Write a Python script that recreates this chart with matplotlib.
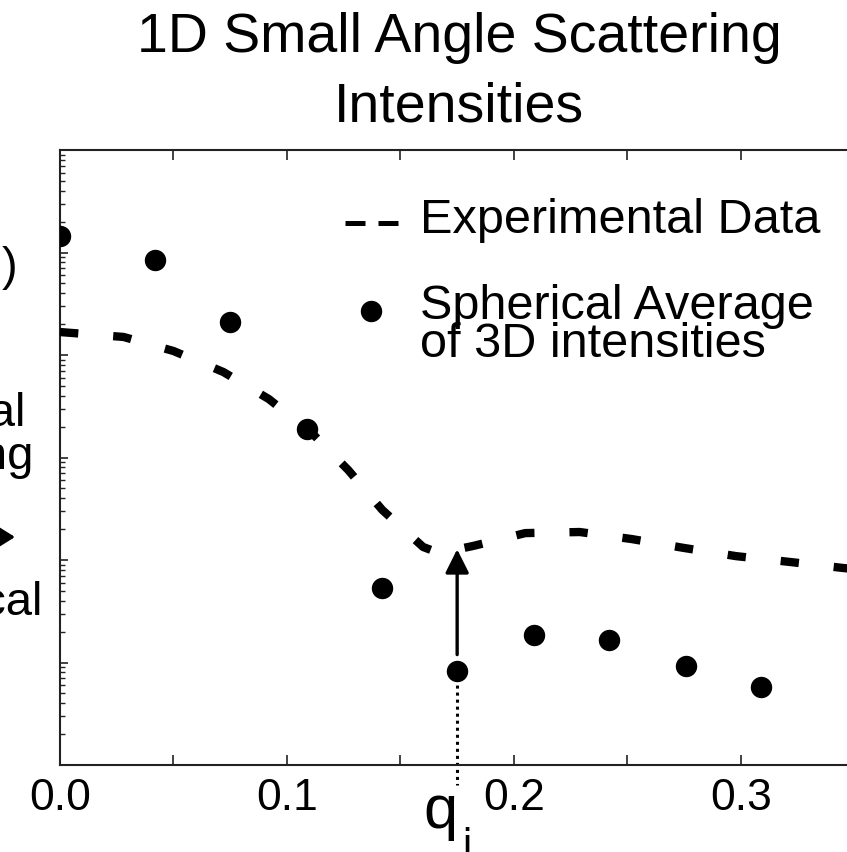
import numpy as np
import matplotlib
matplotlib.use("Agg")
import matplotlib.pyplot as plt
from matplotlib.lines import Line2D
from matplotlib.patches import FancyArrowPatch
from matplotlib.legend_handler import HandlerLine2D
from matplotlib import transforms
from matplotlib.ticker import MultipleLocator, LogLocator, NullFormatter

plt.rcParams['font.family'] = ['Liberation Sans', 'DejaVu Sans']

# ---------------- data ----------------
exp_q = [0.0, 0.028, 0.050, 0.072, 0.092, 0.111, 0.127, 0.142, 0.160, 0.167,
         0.182, 0.205, 0.229, 0.252, 0.275, 0.298, 0.322, 0.345, 0.36]
exp_I = [1675, 1500, 1094, 682, 372, 173, 75.5, 30.8, 13.4, 11.7,
         13.7, 18.3, 18.75, 16.0, 13.1, 10.9, 9.55, 8.36, 7.76]

sph_q = [0.0, 0.042, 0.075, 0.109, 0.142, 0.175, 0.209, 0.242, 0.276, 0.309]
sph_I = [14490, 8453, 2099, 189.7, 5.33, 0.826, 1.854, 1.660, 0.925, 0.577]

qi_index = 5

title = "1D Small Angle Scattering\nIntensities"
legend_labels = ["Experimental Data", "Spherical Average\nof 3D intensities"]
x_ticks = [0.0, 0.1, 0.2, 0.3]
x_ticklabels = ["0.0", "0.1", "0.2", "0.3"]
side_texts = ["I(q)", "Experimental", "Scattering", "Numerical"]

# ---------------- figure ----------------
W, H = 847, 852
fig = plt.figure(figsize=(W / 100, H / 100), dpi=100)
fig.patch.set_facecolor('white')


def P(x, y):
    """pixel (from top-left) -> figure fraction"""
    return x / W, 1 - y / H


class ShiftedHandler(HandlerLine2D):
    def __init__(self, dy=0.0, **kw):
        super().__init__(**kw)
        self.dy = dy

    def create_artists(self, legend, orig_handle, xdescent, ydescent,
                       width, height, fontsize, trans):
        arts = super().create_artists(legend, orig_handle, xdescent, ydescent,
                                      width, height, fontsize, trans)
        for a in arts:
            y = np.asarray(a.get_ydata(), dtype=float)
            a.set_ydata(y + self.dy)
        return arts


ax = fig.add_axes([60 / W, 87 / H, 817 / W, 615 / H])
ax.set_yscale('log')
ax.set_xlim(0, 0.36)
ax.set_ylim(1e-1, 1e5)

ax.plot(exp_q, exp_I, color='black', lw=6, dashes=(2.2, 4.2),
        dash_capstyle='butt', zorder=3)
ax.plot(sph_q, sph_I, linestyle='none', marker='o', ms=14.4,
        color='black', zorder=4)

# arrow from q_i point up to experimental curve
qi = sph_q[qi_index]
exp_at_qi = 10 ** np.interp(qi, exp_q, np.log10(exp_I))
start = sph_I[qi_index] * 10 ** 0.16
ax.annotate("", xy=(qi, exp_at_qi), xytext=(qi, start),
            arrowprops=dict(arrowstyle='-|>,head_length=0.72,head_width=0.36',
                            mutation_scale=20, lw=2.4, color='black',
                            shrinkA=0, shrinkB=0), zorder=5)

# dotted drop line from q_i point below the axis
blend = transforms.blended_transform_factory(ax.transData, ax.transAxes)
ylo, yhi = ax.get_ylim()
frac = (np.log10(sph_I[qi_index]) - np.log10(ylo)) / (np.log10(yhi) - np.log10(ylo))
ax.plot([qi, qi], [frac, -0.033], transform=blend, color='black', lw=2.2,
        dashes=(1.0, 1.3), clip_on=False, zorder=2)

# ticks
ax.set_xticks(x_ticks)
ax.set_xticklabels(x_ticklabels)
ax.xaxis.set_minor_locator(MultipleLocator(0.05))
ax.yaxis.set_major_locator(LogLocator(base=10, numticks=20))
ax.yaxis.set_minor_locator(LogLocator(base=10, subs=np.arange(2, 10), numticks=50))
ax.yaxis.set_major_formatter(NullFormatter())
ax.yaxis.set_minor_formatter(NullFormatter())
ax.tick_params(axis='both', which='both', direction='in', top=True, right=True,
               color='#222222')
ax.tick_params(axis='x', which='major', length=7, width=1.2, labelsize=32, pad=9)
ax.tick_params(axis='x', which='minor', length=7, width=1.2)
ax.tick_params(axis='y', which='major', length=6, width=1.2)
ax.tick_params(axis='y', which='minor', length=3.5, width=1.0)
for s in ax.spines.values():
    s.set_linewidth(1.5)
    s.set_color('#222222')

# legend
h1 = Line2D([], [], color='black', lw=3.6, dashes=(4, 2.6), dash_capstyle='butt')
h2 = Line2D([], [], linestyle='none', marker='o', ms=14.4, color='black')
leg = ax.legend([h1, h2], legend_labels, loc='upper left',
                bbox_to_anchor=P(345, 198), bbox_transform=fig.transFigure,
                frameon=False, fontsize=35, handlelength=1.09,
                handletextpad=0.45, labelspacing=0.85, borderpad=0,
                borderaxespad=0,
                handler_map={h1: ShiftedHandler(dy=-5.0),
                             h2: ShiftedHandler(dy=10.8)})
for t in leg.get_texts():
    t.set_linespacing(0.78)

# title
fig.text(*P(459, 122), title, ha='center', va='baseline', fontsize=40,
         linespacing=1.44)

# q_i label
fig.text(*P(423, 828), 'q', ha='left', va='baseline', fontsize=44)
fig.text(*P(462, 858), 'i', ha='left', va='baseline', fontsize=30)

# partially visible side annotation on the left
fig.text(*P(18, 268), side_texts[0], ha='right', va='center', fontsize=34)
fig.text(*P(26, 426), side_texts[1], ha='right', va='baseline', fontsize=34)
fig.text(*P(34, 469), side_texts[2], ha='right', va='baseline', fontsize=34)
fig.text(*P(43, 615), side_texts[3], ha='right', va='baseline', fontsize=34)
arr = FancyArrowPatch(P(-80, 537), P(15, 537), transform=fig.transFigure,
                      arrowstyle='-|>,head_length=0.4,head_width=0.25',
                      mutation_scale=27, lw=2.4, color='black',
                      shrinkA=0, shrinkB=0)
fig.add_artist(arr)

fig.savefig('out.png', dpi=100)
